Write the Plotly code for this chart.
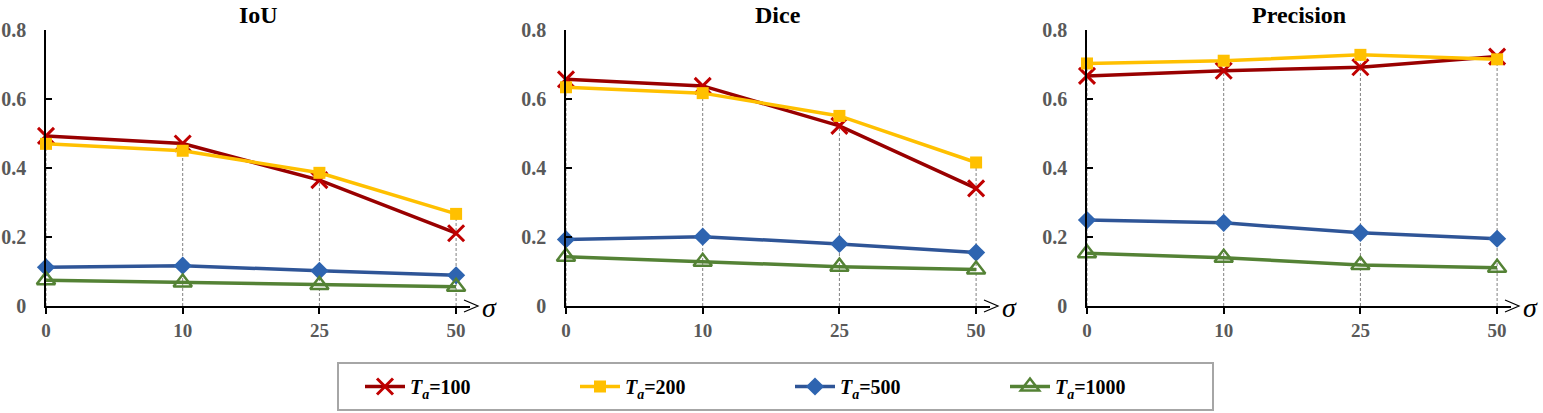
import plotly.graph_objects as go

W, H = 1543, 413

sigma_labels = ["0", "10", "25", "50"]
panel_titles = ["IoU", "Dice", "Precision"]
series_names = ["100", "200", "500", "1000"]

# values, one list per (metric, T_a)
iou_100 = [0.493, 0.471, 0.365, 0.211]
iou_200 = [0.470, 0.450, 0.386, 0.267]
iou_500 = [0.112, 0.117, 0.102, 0.089]
iou_1000 = [0.075, 0.068, 0.061, 0.056]

dice_100 = [0.657, 0.638, 0.522, 0.341]
dice_200 = [0.634, 0.617, 0.551, 0.416]
dice_500 = [0.193, 0.201, 0.180, 0.155]
dice_1000 = [0.143, 0.128, 0.114, 0.106]

prec_100 = [0.667, 0.682, 0.692, 0.723]
prec_200 = [0.703, 0.711, 0.728, 0.715]
prec_500 = [0.249, 0.241, 0.212, 0.195]
prec_1000 = [0.153, 0.140, 0.119, 0.111]

panels = [
    [iou_100, iou_200, iou_500, iou_1000],
    [dice_100, dice_200, dice_500, dice_1000],
    [prec_100, prec_200, prec_500, prec_1000],
]

styles = [
    dict(line="#990000", marker=dict(symbol="x-thin", size=16, color="#C00000",
                                      line=dict(width=3, color="#C00000"))),
    dict(line="#FFC000", marker=dict(symbol="square", size=12, color="#FFC000")),
    dict(line="#2F5597", marker=dict(symbol="diamond", size=14, color="#2E64B0")),
    dict(line="#548235", marker=dict(symbol="triangle-up-open", size=16, color="#548235",
                                      line=dict(width=2.5, color="#548235"))),
]

FONT = "Times New Roman, Liberation Serif, serif"
GREY = "#595959"


def px(x):
    return x / W


def py(y):
    return 1 - y / H


# pixel layout of the three panels
x_left = [46, 566, 1087]
x_right = [470, 990, 1511]
px_per_cat = 136.7
y_top, y_bot = 30, 306

fig = go.Figure()
xs = list(range(len(sigma_labels)))

for p, data in enumerate(panels):
    ax = "" if p == 0 else str(p + 1)
    for s, vals in enumerate(data):
        st = styles[s]
        fig.add_trace(go.Scatter(
            x=xs, y=vals, xaxis="x" + ax, yaxis="y" + ax,
            mode="lines+markers",
            line=dict(color=st["line"], width=3.5),
            marker=st["marker"],
            cliponaxis=False,
            name="<b><i>T</i><sub><i>a</i></sub>=" + series_names[s] + "</b>",
            showlegend=(p == 0),
        ))

    # drop lines from the highest point down to the axis
    for i in xs:
        top = max(v[i] for v in data)
        fig.add_shape(type="line", xref="x" + ax, yref="y" + ax,
                      x0=i, x1=i, y0=0, y1=top,
                      line=dict(color="#808080", width=1, dash="3px,2px"), layer="below")

    xr = (x_right[p] - x_left[p]) / px_per_cat
    fig.update_layout(**{
        "xaxis" + ax: dict(
            domain=[px(x_left[p]), px(x_right[p])], range=[0, xr],
            anchor="y" + ax, automargin=False,
            tickmode="array", tickvals=xs, ticktext=["<b>%s</b>" % t for t in sigma_labels],
            ticks="outside", ticklen=6, tickcolor="black", tickwidth=1.5,
            showline=True, linecolor="black", linewidth=1.5,
            showgrid=False, zeroline=False,
            tickfont=dict(family=FONT, size=19, color=GREY),
        ),
        "yaxis" + ax: dict(
            domain=[py(y_bot), py(y_top)], range=[0, 0.8],
            anchor="x" + ax, automargin=False,
            tickmode="array", tickvals=[0, 0.2, 0.4, 0.6, 0.8],
            ticktext=["<b>0</b>", "<b>0.2</b>", "<b>0.4</b>", "<b>0.6</b>", "<b>0.8</b>"],
            ticks="inside", ticklen=6, tickcolor="black", tickwidth=1.5,
            showline=True, linecolor="black", linewidth=1.5,
            showgrid=False, zeroline=False, ticklabelstandoff=14,
            tickfont=dict(family=FONT, size=20, color=GREY),
        ),
    })

    # open arrow head at the end of the sigma axis
    tip = x_right[p] + 8
    fig.add_shape(type="path", xref="paper", yref="paper",
                  path="M %f,%f L %f,%f L %f,%f" % (px(tip - 14), py(y_bot - 6),
                                                  px(tip), py(y_bot),
                                                  px(tip - 14), py(y_bot + 6)),
                  line=dict(color="black", width=1.2))
    fig.add_annotation(xref="paper", yref="paper", x=px(tip + 2), y=py(y_bot + 1),
                       xanchor="left", yanchor="middle", showarrow=False,
                       text="<i>σ</i>", font=dict(family=FONT, size=28, color="black"))
    fig.add_annotation(xref="x" + ax + " domain", yref="paper", x=0.5, y=py(15),
                       xanchor="center", yanchor="middle",
                       showarrow=False, text="<b>%s</b>" % panel_titles[p],
                       font=dict(family=FONT, size=24, color="black"))

# legend frame
fig.add_shape(type="rect", xref="paper", yref="paper",
              x0=px(338), x1=px(1213), y0=py(410), y1=py(363),
              line=dict(color="#A6A6A6", width=2), fillcolor="white", layer="below")

fig.update_layout(
    width=W, height=H,
    margin=dict(l=0, r=0, t=0, b=0, autoexpand=False),
    paper_bgcolor="white", plot_bgcolor="rgba(0,0,0,0)",
    showlegend=True,
    legend=dict(
        orientation="h", x=px(360), y=py(386.5), xanchor="left", yanchor="middle",
        bgcolor="rgba(0,0,0,0)", borderwidth=0,
        font=dict(family=FONT, size=20, color="black"),
        itemwidth=40, entrywidth=160, entrywidthmode="pixels",
    ),
)

# page body has an 8px default margin; drop it so the figure sits at the corner
fig.write_html("out.html", config={"displayModeBar": False},
               post_script="document.body.style.margin = '0';")
